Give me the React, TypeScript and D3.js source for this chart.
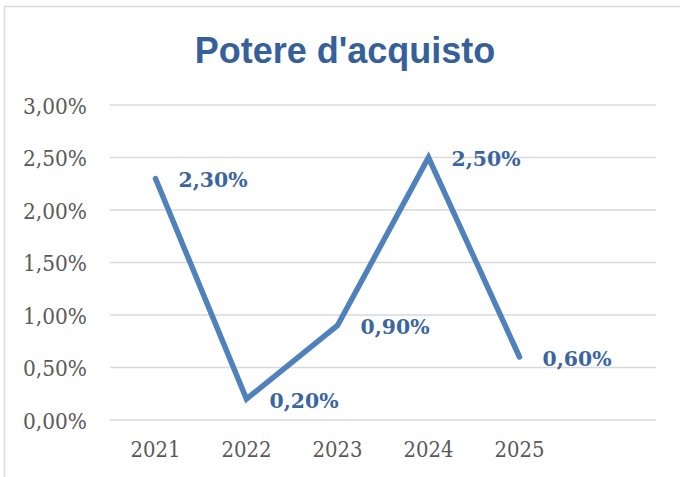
import React from "react";
import * as d3 from "d3";

const categories = ["2021", "2022", "2023", "2024", "2025", ""];
const values = [2.3, 0.2, 0.9, 2.5, 0.6];
const yTicks = [0, 0.5, 1, 1.5, 2, 2.5, 3];
const title = "Potere d'acquisto";

const W = 680;
const H = 477;
const plot = { left: 110, right: 656, top: 105, bottom: 420 };

const fmt = (v: number) => v.toFixed(2).replace(".", ",") + "%";

export default function App() {
  const x = d3
    .scaleBand<string>()
    .domain(categories)
    .range([plot.left, plot.right])
    .paddingInner(0)
    .paddingOuter(0);
  const y = d3.scaleLinear().domain([0, 3]).range([plot.bottom, plot.top]);
  const cx = (i: number) => (x(categories[i]) as number) + x.bandwidth() / 2;
  const line = d3
    .line<number>()
    .x((_, i) => cx(i))
    .y((d) => y(d));

  return (
    <svg
      width={W}
      height={H}
      style={{ position: "absolute", left: 0, top: 0, background: "#fff" }}
    >
      <rect x={0} y={0} width={W} height={H} fill="#fff" />
      <path
        d={`M4.5,${H} L4.5,6.5 L${W},6.5`}
        fill="none"
        stroke="#d9d9d9"
        strokeWidth={1.5}
      />
      <text
        x={345}
        y={63}
        textAnchor="middle"
        fontFamily="'Liberation Sans', Arial, sans-serif"
        fontWeight="bold"
        fontSize={36}
        fill="#35609a"
      >
        {title}
      </text>
      {yTicks.map((t) => (
        <g key={t}>
          <line
            x1={plot.left}
            x2={plot.right}
            y1={y(t)}
            y2={y(t)}
            stroke="#d9d9d9"
            strokeWidth={1.6}
          />
          <text
            x={87}
            y={y(t) + 1}
            textAnchor="end"
            dominantBaseline="central"
            fontFamily="'DejaVu Serif', serif"
            fontSize={21.5}
            textLength={64}
            lengthAdjust="spacingAndGlyphs"
            fill="#595959"
          >
            {fmt(t)}
          </text>
        </g>
      ))}
      {categories.map((c, i) =>
        c ? (
          <text
            key={c}
            x={cx(i)}
            y={449}
            textAnchor="middle"
            dominantBaseline="central"
            fontFamily="'DejaVu Serif', serif"
            fontSize={21.5}
            textLength={50}
            lengthAdjust="spacingAndGlyphs"
            fill="#595959"
          >
            {c}
          </text>
        ) : null
      )}
      <path
        d={line(values) as string}
        fill="none"
        stroke="#4f81bd"
        strokeWidth={5.5}
        strokeLinecap="round"
        strokeLinejoin="miter"
      />
      {values.map((v, i) => (
        <text
          key={i}
          x={cx(i) + 23}
          y={y(v) + 1}
          dominantBaseline="central"
          fontFamily="'DejaVu Serif', serif"
          fontWeight="bold"
          fontSize={21}
          textLength={69}
          lengthAdjust="spacingAndGlyphs"
          fill="#3a65a0"
        >
          {fmt(v)}
        </text>
      ))}
    </svg>
  );
}
